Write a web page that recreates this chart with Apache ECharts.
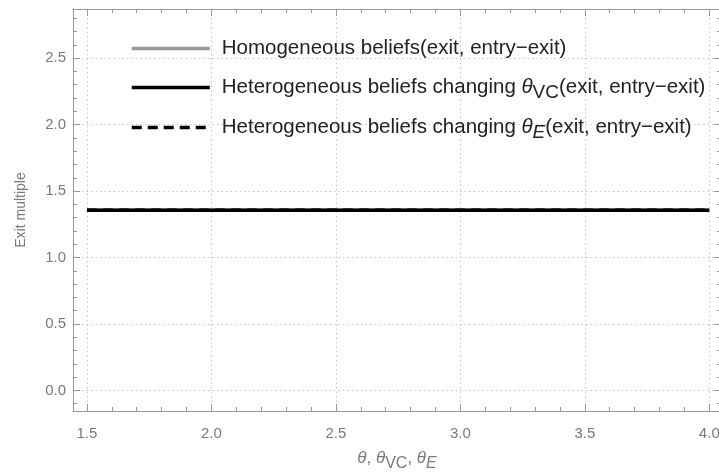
<!DOCTYPE html>
<html>
<head>
<meta charset="utf-8">
<script src="https://cdn.jsdelivr.net/npm/echarts@6/dist/echarts.min.js"></script>
<style>html,body{margin:0;padding:0;background:#fff}#c{width:719px;height:475px}</style>
</head>
<body>
<div id="c"></div>
<script>
// ---- data ----
const xValues = [1.5, 2.0, 2.5, 3.0, 3.5, 4.0];
const homogeneous = [1.355, 1.355, 1.355, 1.355, 1.355, 1.355];
const heteroVC = [1.355, 1.355, 1.355, 1.355, 1.355, 1.355];
const heteroE = [1.355, 1.355, 1.355, 1.355, 1.355, 1.355];
const seriesNames = [
  'Homogeneous beliefs(exit, entry\u2212exit)',
  'Heterogeneous beliefs changing \u03b8VC(exit, entry\u2212exit)',
  'Heterogeneous beliefs changing \u03b8E(exit, entry\u2212exit)'
];
const legendRich = [
  'Homogeneous beliefs(exit, entry\u2212exit)',
  'Heterogeneous beliefs changing {th|\u03b8}{sub|VC}(exit, entry\u2212exit)',
  'Heterogeneous beliefs changing {th|\u03b8}{subI|E}(exit, entry\u2212exit)'
];
const xMajorTicks = [1.5, 2.0, 2.5, 3.0, 3.5, 4.0];
const xMinorTicks = [1.6,1.7,1.8,1.9,2.1,2.2,2.3,2.4,2.6,2.7,2.8,2.9,3.1,3.2,3.3,3.4,3.6,3.7,3.8,3.9];
const yMajorTicks = [0.0, 0.5, 1.0, 1.5, 2.0, 2.5];
const yMinorTicks = [-0.1,0.1,0.2,0.3,0.4,0.6,0.7,0.8,0.9,1.1,1.2,1.3,1.4,1.6,1.7,1.8,1.9,2.1,2.2,2.3,2.4,2.6,2.7,2.8];
const xName = '{th|\u03b8}, {th|\u03b8}{sub|VC}, {th|\u03b8}{subI|E}';
const yName = 'Exit multiple';
const xRange = [1.444, 4.047];
const yRange = [-0.155, 2.87];

const frameColor = '#9a9a9a';
const labelColor = '#7a7a7a';
const font = 'Liberation Sans, Arial, sans-serif';

function xAx(pos, ticks, len, isMain, showLine) {
  return {
    type: 'value', position: pos, min: xRange[0], max: xRange[1],
    axisLine: {show: showLine, onZero: false, lineStyle: {color: frameColor, width: 1}},
    axisTick: {show: true, inside: true, length: len, customValues: ticks, lineStyle: {color: frameColor, width: 1}},
    axisLabel: isMain ? {show: true, customValues: xMajorTicks, formatter: v => v.toFixed(1), color: labelColor, fontSize: 15, fontFamily: font, margin: 15} : {show: false},
    splitLine: isMain ? {show: true, lineStyle: {color: '#c4c4c4', type: [1.5, 3], width: 1}} : {show: false},
    minorTick: {show: false}, minorSplitLine: {show: false}
  };
}
function yAx(pos, ticks, len, isMain, showLine) {
  return {
    type: 'value', position: pos, min: yRange[0], max: yRange[1],
    axisLine: {show: showLine, onZero: false, lineStyle: {color: frameColor, width: 1}},
    axisTick: {show: true, inside: true, length: len, customValues: ticks, lineStyle: {color: frameColor, width: 1}},
    axisLabel: isMain ? {show: true, customValues: yMajorTicks, formatter: v => v.toFixed(1), color: labelColor, fontSize: 15, fontFamily: font, margin: 7} : {show: false},
    splitLine: isMain ? {show: true, lineStyle: {color: '#c4c4c4', type: [1.5, 3], width: 1}} : {show: false},
    minorTick: {show: false}, minorSplitLine: {show: false}
  };
}

const xAxes = [
  xAx('bottom', xMajorTicks, 7, true, true),
  xAx('bottom', xMinorTicks, 4, false, false),
  xAx('top', xMajorTicks, 7, false, true),
  xAx('top', xMinorTicks, 4, false, false)
];
Object.assign(xAxes[0], {
  name: xName, nameLocation: 'middle', nameGap: 34,
  nameTextStyle: {color: labelColor, fontSize: 17, fontFamily: font,
    rich: {th: {fontStyle: 'italic', fontSize: 17, color: labelColor, fontFamily: font},
           sub: {fontSize: 16, color: labelColor, fontFamily: font, padding: [11, 0, 0, 0]},
           subI: {fontSize: 16, fontStyle: 'italic', color: labelColor, fontFamily: font, padding: [11, 0, 0, 0]}}}
});
const yAxes = [
  yAx('left', yMajorTicks, 7, true, true),
  yAx('left', yMinorTicks, 4, false, false),
  yAx('right', yMajorTicks, 7, false, true),
  yAx('right', yMinorTicks, 4, false, false)
];
Object.assign(yAxes[0], {
  name: yName, nameLocation: 'middle', nameGap: 45,
  nameTextStyle: {color: labelColor, fontSize: 14, fontFamily: font}
});

const pairs = arr => xValues.map((x, i) => [x, arr[i]]);

const legendTops = [38, 77, 117];
const legendRichStyle = {
  th: {fontStyle: 'italic', fontSize: 20.5, color: '#222', fontFamily: font},
  sub: {fontSize: 19, color: '#222', fontFamily: font, padding: [11, 0, 0, 0]},
  subI: {fontSize: 19, fontStyle: 'italic', color: '#222', fontFamily: font, padding: [11, 0, 0, 0]}
};
const legends = seriesNames.map((n, i) => ({
  orient: 'vertical', left: 130, top: legendTops[i], padding: 0,
  itemWidth: 78, itemHeight: 14,
  data: [n],
  formatter: name => legendRich[seriesNames.indexOf(name)],
  itemStyle: {opacity: 0},
  lineStyle: {width: 3.5},
  selectedMode: false,
  textStyle: {color: '#222', fontSize: 20.5, fontFamily: font, padding: [0, 0, 0, 7], rich: legendRichStyle}
}));

const chart = echarts.init(document.getElementById('c'), null, {renderer: 'canvas'});
chart.setOption({
  animation: false,
  backgroundColor: '#ffffff',
  grid: {left: 73, top: 9, right: -2, bottom: 64, containLabel: false, outerBoundsMode: 'none'},
  xAxis: xAxes,
  yAxis: yAxes,
  legend: legends,
  series: [
    {name: seriesNames[0], type: 'line', data: pairs(homogeneous), showSymbol: false, symbol: 'none',
     lineStyle: {color: '#999999', width: 3.5}, itemStyle: {color: '#999999'}},
    {name: seriesNames[1], type: 'line', data: pairs(heteroVC), showSymbol: false, symbol: 'none',
     lineStyle: {color: '#000000', width: 3.5}, itemStyle: {color: '#000000'}},
    {name: seriesNames[2], type: 'line', data: pairs(heteroE), showSymbol: false, symbol: 'none',
     lineStyle: {color: '#000000', width: 3.5, type: [10, 6]}, itemStyle: {color: '#000000'}}
  ]
});
</script>
</body>
</html>
